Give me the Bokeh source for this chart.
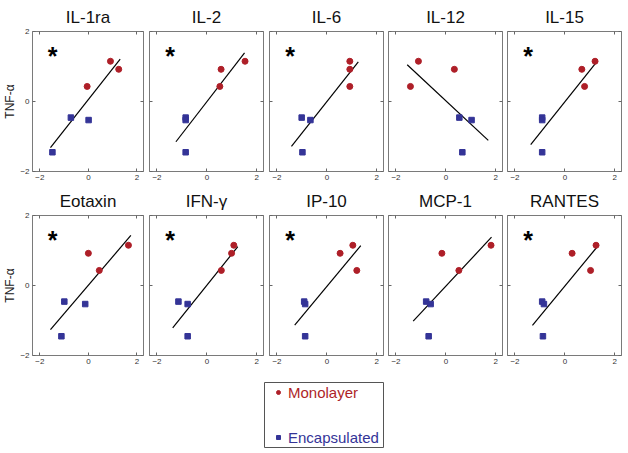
from bokeh.plotting import figure
from bokeh.models import FixedTicker, LinearAxis, Range1d, Legend, LegendItem, Spacer, ColumnDataSource
from bokeh.layouts import row, column
from bokeh.core.properties import value
from bokeh.embed import file_html
from bokeh.resources import INLINE

# ---------------- data ----------------
panel_names = ["IL-1ra", "IL-2", "IL-6", "IL-12", "IL-15",
               "Eotaxin", "IFN-γ", "IP-10", "MCP-1", "RANTES"]
significant = [True, True, True, False, True, True, True, True, False, True]

# TNF-alpha (y) values, shared by all panels
tnf_monolayer = [1.15, 0.92, 0.43]
tnf_encapsulated = [-0.46, -0.53, -1.45]

# cytokine (x) values per panel, in the order of the y values above
x_monolayer = {
    "IL-1ra": [0.91, 1.25, -0.05],
    "IL-2": [1.53, 0.57, 0.52],
    "IL-6": [0.92, 0.92, 0.92],
    "IL-12": [-1.10, 0.34, -1.42],
    "IL-15": [1.21, 0.68, 0.79],
    "Eotaxin": [1.65, 0.00, 0.45],
    "IFN-γ": [1.08, 0.99, 0.58],
    "IP-10": [1.04, 0.53, 1.20],
    "MCP-1": [1.81, -0.16, 0.52],
    "RANTES": [1.25, 0.29, 1.03],
}
x_encapsulated = {
    "IL-1ra": [-0.72, 0.01, -1.48],
    "IL-2": [-0.85, -0.85, -0.85],
    "IL-6": [-1.01, -0.66, -0.98],
    "IL-12": [0.54, 1.03, 0.66],
    "IL-15": [-0.91, -0.91, -0.91],
    "Eotaxin": [-0.99, -0.13, -1.11],
    "IFN-γ": [-1.14, -0.77, -0.77],
    "IP-10": [-0.91, -0.87, -0.87],
    "MCP-1": [-0.79, -0.61, -0.69],
    "RANTES": [-0.91, -0.84, -0.88],
}
# fitted line end points (x0, x1) and (y0, y1)
fit_x = {
    "IL-1ra": [-1.56, 1.31], "IL-2": [-1.24, 1.51], "IL-6": [-1.42, 1.26],
    "IL-12": [-1.55, 1.70], "IL-15": [-1.37, 1.26], "Eotaxin": [-1.56, 1.75],
    "IFN-γ": [-1.37, 1.24], "IP-10": [-1.29, 1.36], "MCP-1": [-1.31, 1.83],
    "RANTES": [-1.30, 1.29],
}
fit_y = {
    "IL-1ra": [-1.32, 1.21], "IL-2": [-1.15, 1.39], "IL-6": [-1.28, 1.13],
    "IL-12": [1.05, -1.11], "IL-15": [-1.23, 1.12], "Eotaxin": [-1.26, 1.43],
    "IFN-γ": [-1.21, 1.11], "IP-10": [-1.13, 1.14], "MCP-1": [-1.02, 1.38],
    "RANTES": [-1.14, 1.10],
}
star_pos = [-1.47, 1.47]
axis_ticks = [-2, 0, 2]
y_label = "TNF-α"
series_names = ["Monolayer", "Encapsulated"]

# ---------------- style ----------------
FONT = "Liberation Sans"
RED = "#AE1F28"
BLUE = "#343497"
FRAME = "#7a7a7a"
TICK = "#666666"

FRAME_W = 114
TOP = 29
FRAME_H = 142
BOTTOM = 13
# (left border, right border) for the five columns
COL_BORDERS = [(29, 3), (3, 3), (3, 2), (3, 2), (3, 3)]


def style_axis(ax, labels=True):
    ax.ticker = FixedTicker(ticks=axis_ticks)
    ax.axis_line_color = None
    ax.major_tick_in = 3
    ax.major_tick_out = 0
    ax.major_tick_line_color = TICK
    ax.minor_tick_line_color = None
    if labels:
        ax.major_label_text_font = FONT
        ax.major_label_text_font_size = "8px"
        ax.major_label_text_color = "#333333"
    else:
        ax.major_label_text_font_size = "0px"
        ax.major_label_text_color = None
        ax.major_label_standoff = 0


def make_panel(idx):
    name = panel_names[idx]
    col = idx % 5
    left, right = COL_BORDERS[col]
    p = figure(width=left + FRAME_W + right, height=TOP + FRAME_H + BOTTOM,
               x_range=Range1d(-2.3, 2.27), y_range=Range1d(-2, 2),
               output_backend="svg", toolbar_location=None,
               min_border_left=left, min_border_right=right,
               min_border_top=TOP, min_border_bottom=BOTTOM,
               title=name)
    p.title.align = "center"
    p.title.text_font = FONT
    p.title.text_font_size = "17px"
    p.title.text_font_style = "normal"
    p.title.text_color = "#111111"
    p.title.standoff = 10
    p.outline_line_color = FRAME
    p.outline_line_width = 1
    p.grid.visible = False
    p.background_fill_color = "white"
    p.border_fill_color = "white"

    style_axis(p.xaxis[0], labels=True)
    p.xaxis[0].major_label_standoff = 3
    style_axis(p.yaxis[0], labels=(col == 0))
    if col == 0:
        p.yaxis[0].major_label_standoff = 3
        p.yaxis[0].axis_label = y_label
        p.yaxis[0].axis_label_text_font = FONT
        p.yaxis[0].axis_label_text_font_size = "12px"
        p.yaxis[0].axis_label_text_font_style = "normal"
        p.yaxis[0].axis_label_text_color = "#222222"
        p.yaxis[0].axis_label_standoff = 0
    top_ax = LinearAxis()
    style_axis(top_ax, labels=False)
    p.add_layout(top_ax, "above")
    right_ax = LinearAxis()
    style_axis(right_ax, labels=False)
    p.add_layout(right_ax, "right")

    p.line(x=fit_x[name], y=fit_y[name], line_color="black", line_width=1.2)
    p.scatter(x=x_monolayer[name], y=tnf_monolayer, marker="circle",
              size=6, fill_color=RED, line_color=RED)
    p.scatter(x=x_encapsulated[name], y=tnf_encapsulated, marker="square",
              size=5.5, fill_color=BLUE, line_color=BLUE)
    if significant[idx]:
        p.text(x=[star_pos[0]], y=[star_pos[1]], text=["*"],
               text_font=value(FONT), text_font_size="25px",
               text_font_style="bold", text_align="center",
               text_baseline="middle", text_color="black", y_offset=6)
    return p


panels = [make_panel(i) for i in range(len(panel_names))]

# ---------------- legend ----------------
LEG_LEFT = 264
leg = figure(width=LEG_LEFT + 119 + 2, height=67, x_range=Range1d(0, 1),
             y_range=Range1d(0, 1), x_axis_type=None, y_axis_type=None,
             output_backend="svg", toolbar_location=None,
             min_border_left=LEG_LEFT, min_border_right=2,
             min_border_top=1, min_border_bottom=1)
leg.outline_line_color = "#555555"
leg.grid.visible = False
# legend swatches only: the point lies outside the visible range
src_off = ColumnDataSource(data=dict(x=[-10], y=[-10]))
r_mono = leg.scatter(x="x", y="y", source=src_off, marker="circle", size=5,
                     fill_color=RED, line_color=RED)
r_enc = leg.scatter(x="x", y="y", source=src_off, marker="square", size=5,
                    fill_color=BLUE, line_color=BLUE)
for name, rend, color, loc in [(series_names[0], r_mono, RED, (9, 46)),
                               (series_names[1], r_enc, BLUE, (9, 1))]:
    lg = Legend(items=[LegendItem(label=name, renderers=[rend])],
                location=loc, padding=0, margin=0, border_line_color=None,
                background_fill_alpha=0, label_text_font=FONT,
                label_text_font_size="15px", label_text_color=color,
                glyph_width=10, glyph_height=10, label_standoff=5,
                label_height=18)
    leg.add_layout(lg)

layout = column(
    row(*panels[:5]),
    row(*panels[5:]),
    Spacer(height=13),
    leg,
)

open("out.html", "w").write(file_html(layout, INLINE))
